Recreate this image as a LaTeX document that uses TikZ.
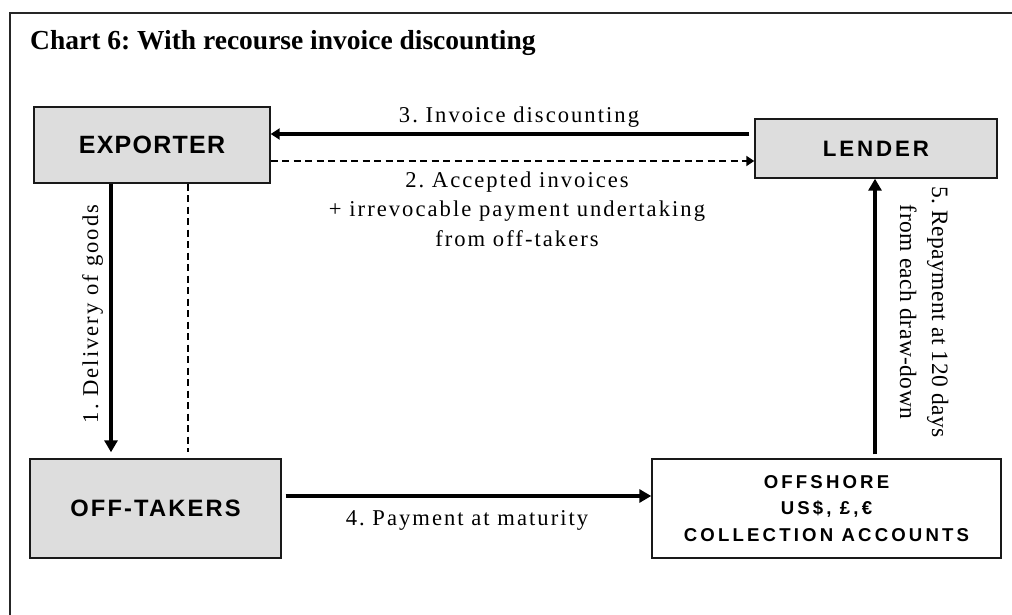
\documentclass[tikz,border=0pt]{standalone}
\usepackage{fontspec}
\setmainfont{Liberation Serif}
\setsansfont{Liberation Sans}
\usetikzlibrary{arrows.meta}
\definecolor{boxgray}{HTML}{DDDDDD}
\frenchspacing

\begin{document}
\begin{tikzpicture}[x=1pt,y=-1pt,
  party/.style={draw=black!90, line width=1.4pt, fill=boxgray, inner sep=0pt, align=center},
  flowlabel/.style={inner sep=0pt, align=center,
    font=\fontsize{22.6}{29.5}\selectfont\addfontfeatures{LetterSpace=9}},
  flow/.style={line width=4.5pt, -{Triangle[length=12pt,width=13pt]}},
  pledge/.style={line width=2.4pt, dash pattern=on 7pt off 4.5pt},
  pledgearrow/.style={pledge, -{Triangle[length=8pt,width=10pt]}}]

\useasboundingbox (0,0) rectangle (1012,615);

% outer frame
\draw[line width=1.8pt, black!85] (1012,13) -- (10,13) -- (10,615);

% title
\node[anchor=base west, inner sep=0pt,
  font=\fontsize{27.5}{33}\selectfont\bfseries] (title) at (30,50)
  {Chart 6: With recourse invoice discounting};

% parties
\node[party, minimum width=236pt, minimum height=76pt,
  font=\sffamily\bfseries\fontsize{25}{30}\selectfont\addfontfeatures{LetterSpace=5}]
  (exporter) at (152,145) {EXPORTER};
\node[party, minimum width=242pt, minimum height=59pt,
  font=\sffamily\bfseries\fontsize{22.3}{26}\selectfont\addfontfeatures{LetterSpace=13}]
  (lender) at (876,148.5) {LENDER};
\node[party, minimum width=251pt, minimum height=99pt,
  font=\sffamily\bfseries\fontsize{23.7}{28}\selectfont\addfontfeatures{LetterSpace=9}]
  (offtakers) at (155.5,508.5) {OFF-TAKERS};
\node[party, fill=white, minimum width=349pt, minimum height=99pt,
  font=\sffamily\bfseries\fontsize{18.6}{26.5}\selectfont\addfontfeatures{LetterSpace=17}]
  (offshore) at (826.5,508.5) {OFFSHORE\\US\$, £,€\\COLLECTION ACCOUNTS};

% 3. invoice discounting
\coordinate (dStart) at ([shift={(-5pt,14.5pt)}]lender.west);
\draw[flow, -{Triangle[length=9pt,width=11pt]}] (dStart) -- (exporter.east |- dStart);

% 2. accepted invoices
\coordinate (aStart) at ([yshift=-16pt]exporter.east);
\draw[pledgearrow] (aStart) -- (lender.west |- aStart);

% 1. delivery of goods
\coordinate (gStart) at ([xshift=-41pt]exporter.south);
\draw[flow, shorten >=6pt] (gStart) -- (gStart |- offtakers.north);

% undertaking link between exporter and off-takers
\coordinate (uStart) at ([xshift=36pt]exporter.south);
\draw[pledge, shorten >=6pt] (uStart) -- (uStart |- offtakers.north);

% 4. payment at maturity
\coordinate (pStart) at ([yshift=12.5pt]offtakers.east);
\draw[flow, shorten <=4pt] (pStart) -- (offshore.west |- pStart);

% 5. repayment
\coordinate (rStart) at ([xshift=48.5pt]offshore.north);
\draw[flow, shorten <=4pt] (rStart) -- (rStart |- lender.south);

% flow labels
\node[flowlabel, anchor=base] (l3) at (519,123) {3. Invoice discounting};
\node[flowlabel, anchor=north] (l2) at (517,171.5)
  {2. Accepted invoices\\+ irrevocable payment undertaking\\from off-takers};
\node[flowlabel, anchor=base, rotate=90] (l1) at (98,314) {1. Delivery of goods};
\node[flowlabel, anchor=base] (l4) at (467,525) {4. Payment at maturity};
\node[flowlabel, anchor=north, rotate=-90,
  font=\fontsize{23.5}{32}\selectfont\addfontfeatures{LetterSpace=1.8}] (l5) at (948.5,312)
  {5. Repayment at 120 days\\from each draw-down};
\end{tikzpicture}
\end{document}
